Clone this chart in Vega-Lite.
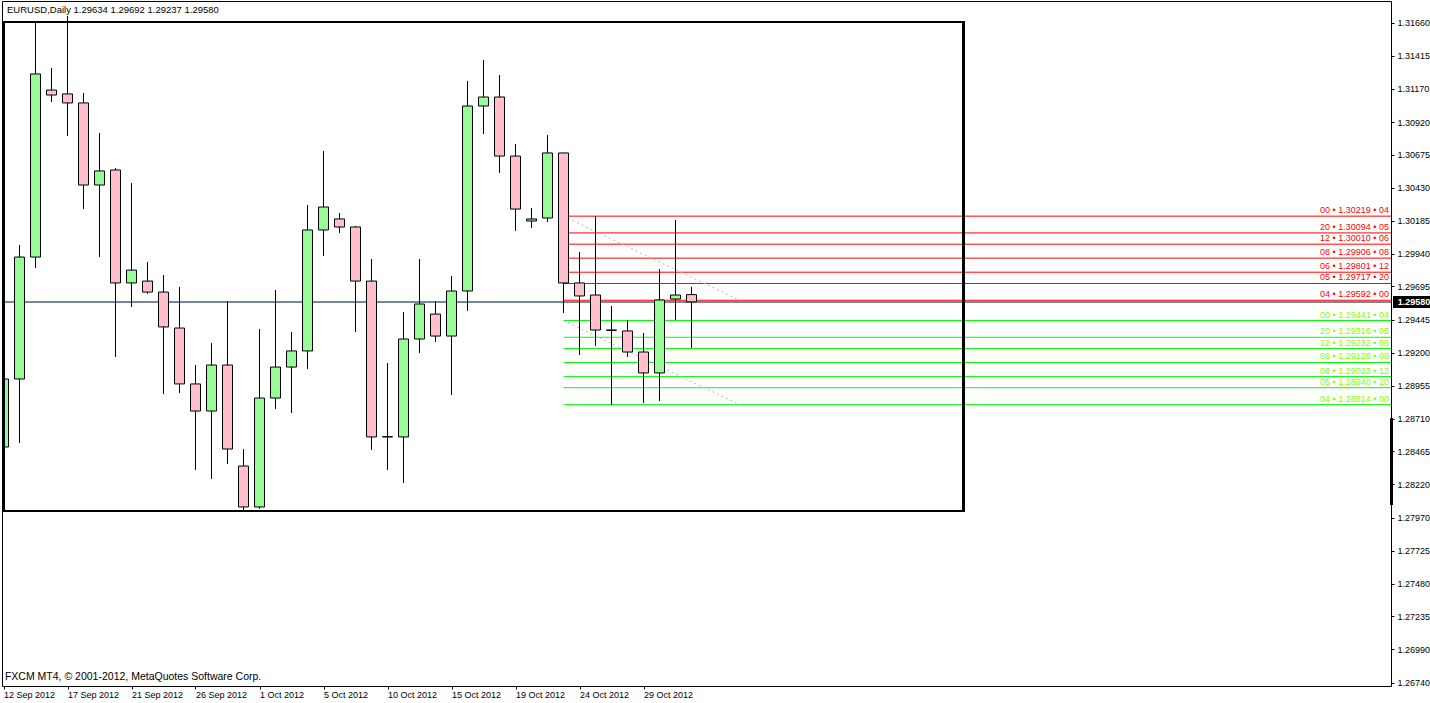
{
  "$schema": "https://vega.github.io/schema/vega-lite/v6.json",
  "width": 1389,
  "height": 685,
  "autosize": {"type": "none"},
  "padding": {"left": 2, "top": 1, "right": 39, "bottom": 17},
  "background": "white",
  "config": {
    "view": {"stroke": "black", "strokeWidth": 1},
    "font": "Liberation Sans",
    "scale": {"continuousPadding": 0},
    "axis": {"labelFont": "Liberation Sans", "labelFontSize": 9, "labelColor": "black", "tickColor": "black", "domain": false, "grid": false, "title": null, "labelOverlap": false, "labelBound": false, "labelFlush": false}
  },
  "datasets": {
    "bars": [
      {"date": "2012-09-12", "i": 0, "open": 1.28498, "high": 1.29355, "low": 1.28155, "close": 1.29005},
      {"date": "2012-09-13", "i": 1, "open": 1.29005, "high": 1.30004, "low": 1.28528, "close": 1.29914},
      {"date": "2012-09-14", "i": 2, "open": 1.29914, "high": 1.31666, "low": 1.29832, "close": 1.31279},
      {"date": "2012-09-16", "i": 3, "open": 1.31159, "high": 1.31323, "low": 1.31070, "close": 1.31122},
      {"date": "2012-09-17", "i": 4, "open": 1.31130, "high": 1.31711, "low": 1.30816, "close": 1.31063},
      {"date": "2012-09-18", "i": 5, "open": 1.31063, "high": 1.31137, "low": 1.30272, "close": 1.30451},
      {"date": "2012-09-19", "i": 6, "open": 1.30451, "high": 1.30839, "low": 1.29914, "close": 1.30556},
      {"date": "2012-09-20", "i": 7, "open": 1.30563, "high": 1.30578, "low": 1.29169, "close": 1.29721},
      {"date": "2012-09-21", "i": 8, "open": 1.29721, "high": 1.30466, "low": 1.29542, "close": 1.29817},
      {"date": "2012-09-23", "i": 9, "open": 1.29735, "high": 1.29877, "low": 1.29639, "close": 1.29653},
      {"date": "2012-09-24", "i": 10, "open": 1.29653, "high": 1.29780, "low": 1.28893, "close": 1.29393},
      {"date": "2012-09-25", "i": 11, "open": 1.29385, "high": 1.29691, "low": 1.28900, "close": 1.28968},
      {"date": "2012-09-26", "i": 12, "open": 1.28968, "high": 1.29109, "low": 1.28327, "close": 1.28766},
      {"date": "2012-09-27", "i": 13, "open": 1.28766, "high": 1.29273, "low": 1.28259, "close": 1.29109},
      {"date": "2012-09-28", "i": 14, "open": 1.29109, "high": 1.29586, "low": 1.28371, "close": 1.28483},
      {"date": "2012-09-30", "i": 15, "open": 1.28356, "high": 1.28483, "low": 1.28021, "close": 1.28051},
      {"date": "2012-10-01", "i": 16, "open": 1.28051, "high": 1.29378, "low": 1.28036, "close": 1.28863},
      {"date": "2012-10-02", "i": 17, "open": 1.28863, "high": 1.29668, "low": 1.28781, "close": 1.29094},
      {"date": "2012-10-03", "i": 18, "open": 1.29094, "high": 1.29355, "low": 1.28751, "close": 1.29214},
      {"date": "2012-10-04", "i": 19, "open": 1.29214, "high": 1.30302, "low": 1.29079, "close": 1.30116},
      {"date": "2012-10-05", "i": 20, "open": 1.30116, "high": 1.30705, "low": 1.29922, "close": 1.30287},
      {"date": "2012-10-07", "i": 21, "open": 1.30198, "high": 1.30242, "low": 1.30093, "close": 1.30138},
      {"date": "2012-10-08", "i": 22, "open": 1.30138, "high": 1.30146, "low": 1.29355, "close": 1.29735},
      {"date": "2012-10-09", "i": 23, "open": 1.29735, "high": 1.29900, "low": 1.28476, "close": 1.28573},
      {"date": "2012-10-10", "i": 24, "open": 1.28573, "high": 1.29124, "low": 1.28327, "close": 1.28575},
      {"date": "2012-10-11", "i": 25, "open": 1.28573, "high": 1.29504, "low": 1.28230, "close": 1.29303},
      {"date": "2012-10-12", "i": 26, "open": 1.29303, "high": 1.29900, "low": 1.29199, "close": 1.29564},
      {"date": "2012-10-14", "i": 27, "open": 1.29489, "high": 1.29586, "low": 1.29281, "close": 1.29325},
      {"date": "2012-10-15", "i": 28, "open": 1.29325, "high": 1.29773, "low": 1.28886, "close": 1.29661},
      {"date": "2012-10-16", "i": 29, "open": 1.29661, "high": 1.31227, "low": 1.29512, "close": 1.31040},
      {"date": "2012-10-17", "i": 30, "open": 1.31040, "high": 1.31383, "low": 1.30831, "close": 1.31107},
      {"date": "2012-10-18", "i": 31, "open": 1.31107, "high": 1.31271, "low": 1.30541, "close": 1.30667},
      {"date": "2012-10-19", "i": 32, "open": 1.30667, "high": 1.30757, "low": 1.30108, "close": 1.30272},
      {"date": "2012-10-21", "i": 33, "open": 1.30183, "high": 1.30280, "low": 1.30131, "close": 1.30198},
      {"date": "2012-10-22", "i": 34, "open": 1.30205, "high": 1.30824, "low": 1.30175, "close": 1.30690},
      {"date": "2012-10-23", "i": 35, "open": 1.30690, "high": 1.30692, "low": 1.29497, "close": 1.29721},
      {"date": "2012-10-24", "i": 36, "open": 1.29721, "high": 1.29952, "low": 1.29184, "close": 1.29624},
      {"date": "2012-10-25", "i": 37, "open": 1.29631, "high": 1.30220, "low": 1.29251, "close": 1.29370},
      {"date": "2012-10-26", "i": 38, "open": 1.29370, "high": 1.29549, "low": 1.28811, "close": 1.29368},
      {"date": "2012-10-28", "i": 39, "open": 1.29363, "high": 1.29445, "low": 1.29169, "close": 1.29206},
      {"date": "2012-10-29", "i": 40, "open": 1.29206, "high": 1.29348, "low": 1.28826, "close": 1.29050},
      {"date": "2012-10-30", "i": 41, "open": 1.29050, "high": 1.29825, "low": 1.28841, "close": 1.29594},
      {"date": "2012-10-31", "i": 42, "open": 1.29601, "high": 1.30190, "low": 1.29445, "close": 1.29631},
      {"date": "2012-11-01", "i": 43, "open": 1.29634, "high": 1.29692, "low": 1.29237, "close": 1.29580}
    ],
    "levels": [
      {"side": "up", "level": 1.30219, "label": "00 • 1.30219 • 04"},
      {"side": "up", "level": 1.30094, "label": "20 • 1.30094 • 05"},
      {"side": "up", "level": 1.30010, "label": "12 • 1.30010 • 06"},
      {"side": "up", "level": 1.29906, "label": "08 • 1.29906 • 08"},
      {"side": "up", "level": 1.29801, "label": "06 • 1.29801 • 12"},
      {"side": "up", "level": 1.29717, "label": "05 • 1.29717 • 20"},
      {"side": "up", "level": 1.29592, "label": "04 • 1.29592 • 00"},
      {"side": "down", "level": 1.29441, "label": "00 • 1.29441 • 04"},
      {"side": "down", "level": 1.29316, "label": "20 • 1.29316 • 05"},
      {"side": "down", "level": 1.29232, "label": "12 • 1.29232 • 06"},
      {"side": "down", "level": 1.29128, "label": "08 • 1.29128 • 08"},
      {"side": "down", "level": 1.29023, "label": "06 • 1.29023 • 12"},
      {"side": "down", "level": 1.28940, "label": "05 • 1.28940 • 20"},
      {"side": "down", "level": 1.28814, "label": "04 • 1.28814 • 00"}
    ],
    "diag": [
      {"line": "upper", "i": 35, "p": 1.30219},
      {"line": "upper", "i": 46, "p": 1.29592},
      {"line": "lower", "i": 35, "p": 1.29441},
      {"line": "lower", "i": 46, "p": 1.28814}
    ]
  },
  "layer": [
    {
      "data": {"name": "bars"},
      "mark": {"type": "rule", "stroke": "#778899", "strokeWidth": 1},
      "encoding": {
        "y": {"datum": 1.2958, "type": "quantitative", "scale": {"domain": [1.267162, 1.318229], "nice": false, "zero": false, "padding": 0},
          "axis": {"orient": "right", "values": [1.3166, 1.31415, 1.3117, 1.3092, 1.30675, 1.3043, 1.30185, 1.2994, 1.29695, 1.29445, 1.292, 1.28955, 1.2871, 1.28465, 1.2822, 1.2797, 1.27725, 1.2748, 1.27235, 1.2699, 1.2674], "tickCount": 30, "format": ".5f", "tickSize": 3, "labelPadding": 3, "labelBaseline": "middle", "labelOverlap": false}}
      }
    },
    {
      "data": {"name": "levels"},
      "mark": {"type": "rule", "strokeWidth": 1},
      "encoding": {
        "x": {"datum": 35, "type": "quantitative", "scale": {"domain": [-0.09375, 86.71875], "nice": false, "zero": false, "padding": 0},
          "axis": {"orient": "bottom", "values": [0, 4, 8, 12, 16, 20, 24, 28, 32, 36, 40], "tickCount": 40, "labelExpr": "['12 Sep 2012','17 Sep 2012','21 Sep 2012','26 Sep 2012','1 Oct 2012','5 Oct 2012','10 Oct 2012','15 Oct 2012','19 Oct 2012','24 Oct 2012','29 Oct 2012'][round(datum.value/4)]", "labelAlign": "left", "labelBaseline": "top", "labelPadding": 1, "tickSize": 3}},
        "x2": {"datum": 86.71875},
        "y": {"field": "level", "type": "quantitative", "scale": {"domain": [1.267162, 1.318229], "nice": false, "zero": false, "padding": 0}},
        "color": {"condition": {"test": "datum.side == 'up'", "value": "#ff0000"}, "value": "#00ff00"}
      }
    },
    {
      "data": {"name": "levels"},
      "mark": {"type": "text", "align": "right", "baseline": "alphabetic", "dy": -3, "fontSize": 9, "font": "Liberation Sans"},
      "encoding": {
        "x": {"datum": 86.59, "type": "quantitative", "scale": {"domain": [-0.09375, 86.71875], "nice": false, "zero": false, "padding": 0}},
        "y": {"field": "level", "type": "quantitative", "scale": {"domain": [1.267162, 1.318229], "nice": false, "zero": false, "padding": 0}},
        "text": {"field": "label"},
        "color": {"condition": {"test": "datum.side == 'up'", "value": "#ff0000"}, "value": "#7fff00"}
      }
    },
    {
      "data": {"name": "diag"},
      "mark": {"type": "line", "stroke": "#b4b4b4", "strokeWidth": 1, "strokeDash": [2, 3]},
      "encoding": {
        "x": {"field": "i", "type": "quantitative", "scale": {"domain": [-0.09375, 86.71875], "nice": false, "zero": false, "padding": 0}},
        "y": {"field": "p", "type": "quantitative", "scale": {"domain": [1.267162, 1.318229], "nice": false, "zero": false, "padding": 0}},
        "detail": {"field": "line"}
      }
    },
    {
      "data": {"name": "bars"},
      "mark": {"type": "rule", "stroke": "black", "strokeWidth": 1, "clip": true},
      "encoding": {
        "x": {"field": "i", "type": "quantitative", "scale": {"domain": [-0.09375, 86.71875], "nice": false, "zero": false, "padding": 0}},
        "y": {"field": "high", "type": "quantitative", "scale": {"domain": [1.267162, 1.318229], "nice": false, "zero": false, "padding": 0}},
        "y2": {"field": "low"}
      }
    },
    {
      "data": {"name": "bars"},
      "mark": {"type": "bar", "width": 10, "stroke": "black", "strokeWidth": 1, "clip": true},
      "encoding": {
        "x": {"field": "i", "type": "quantitative", "scale": {"domain": [-0.09375, 86.71875], "nice": false, "zero": false, "padding": 0}},
        "y": {"field": "open", "type": "quantitative", "scale": {"domain": [1.267162, 1.318229], "nice": false, "zero": false, "padding": 0}},
        "y2": {"field": "close"},
        "fill": {"condition": {"test": "datum.close >= datum.open", "value": "#98fb98"}, "value": "#ffc0cb"}
      }
    },
    {
      "data": {"name": "bars"},
      "mark": {"type": "rect", "fill": null, "fillOpacity": 0, "stroke": "black", "strokeWidth": 2},
      "encoding": {
        "x": {"datum": 0, "type": "quantitative", "scale": {"domain": [-0.09375, 86.71875], "nice": false, "zero": false, "padding": 0}},
        "x2": {"datum": 60},
        "y": {"datum": 1.31666, "type": "quantitative", "scale": {"domain": [1.267162, 1.318229], "nice": false, "zero": false, "padding": 0}},
        "y2": {"datum": 1.28021}
      }
    },
    {
      "data": {"name": "bars"},
      "mark": {"type": "rule", "stroke": "black", "strokeWidth": 3},
      "encoding": {
        "x": {"datum": 86.75, "type": "quantitative", "scale": {"domain": [-0.09375, 86.71875], "nice": false, "zero": false, "padding": 0}},
        "y": {"datum": 1.28707, "type": "quantitative", "scale": {"domain": [1.267162, 1.318229], "nice": false, "zero": false, "padding": 0}},
        "y2": {"datum": 1.28066}
      }
    },
    {
      "data": {"name": "bars"},
      "mark": {"type": "rect", "fill": "black"},
      "encoding": {
        "x": {"datum": 86.9, "type": "quantitative", "scale": {"domain": [-0.09375, 86.71875], "nice": false, "zero": false, "padding": 0}},
        "x2": {"datum": 89.3},
        "y": {"datum": 1.2962, "type": "quantitative", "scale": {"domain": [1.267162, 1.318229], "nice": false, "zero": false, "padding": 0}},
        "y2": {"datum": 1.29538}
      }
    },
    {
      "data": {"values": [{"t": "1.29580"}]},
      "mark": {"type": "text", "align": "left", "baseline": "middle", "fontSize": 9, "font": "Liberation Sans", "fill": "white", "fontWeight": "bold"},
      "encoding": {
        "x": {"datum": 87.14, "type": "quantitative", "scale": {"domain": [-0.09375, 86.71875], "nice": false, "zero": false, "padding": 0}},
        "y": {"datum": 1.2958, "type": "quantitative", "scale": {"domain": [1.267162, 1.318229], "nice": false, "zero": false, "padding": 0}},
        "text": {"field": "t"}
      }
    },
    {
      "data": {"values": [{"t": "EURUSD,Daily  1.29634 1.29692 1.29237 1.29580"}]},
      "mark": {"type": "text", "align": "left", "baseline": "middle", "fontSize": 9.5, "font": "Liberation Sans", "fill": "black"},
      "encoding": {
        "x": {"datum": 0.22, "type": "quantitative", "scale": {"domain": [-0.09375, 86.71875], "nice": false, "zero": false, "padding": 0}},
        "y": {"datum": 1.31756, "type": "quantitative", "scale": {"domain": [1.267162, 1.318229], "nice": false, "zero": false, "padding": 0}},
        "text": {"field": "t"}
      }
    },
    {
      "data": {"values": [{"t": "FXCM MT4, © 2001-2012, MetaQuotes Software Corp."}]},
      "mark": {"type": "text", "align": "left", "baseline": "middle", "fontSize": 10.5, "font": "Liberation Sans", "fill": "black"},
      "encoding": {
        "x": {"datum": 0.09, "type": "quantitative", "scale": {"domain": [-0.09375, 86.71875], "nice": false, "zero": false, "padding": 0}},
        "y": {"datum": 1.26783, "type": "quantitative", "scale": {"domain": [1.267162, 1.318229], "nice": false, "zero": false, "padding": 0}},
        "text": {"field": "t"}
      }
    }
  ]
}
